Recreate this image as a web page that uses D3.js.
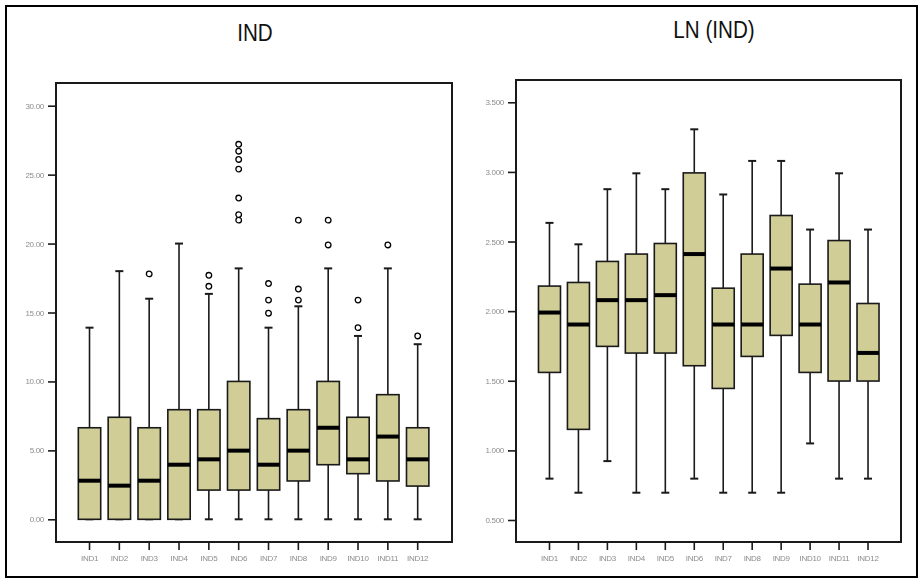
<!DOCTYPE html>
<html>
<head>
<meta charset="utf-8">
<script src="https://cdn.jsdelivr.net/npm/d3@7"></script>
<style>
  html, body { margin: 0; padding: 0; background: #ffffff; }
  svg { display: block; }
  .lbl { filter: grayscale(1); }
</style>
</head>
<body>
<svg id="chart" width="920" height="580"></svg>
<script>
// ---------------- DATA ----------------
const categories = ["IND1","IND2","IND3","IND4","IND5","IND6","IND7","IND8","IND9","IND10","IND11","IND12"];

// Left panel: IND
const indTicks    = [0, 5, 10, 15, 20, 25, 30];
const indMin      = [0, 0, 0, 0, 0, 0, 0, 0, 0, 0, 0, 0];
const indQ1       = [0, 0, 0, 0, 2.12, 2.12, 2.12, 2.78, 3.96, 3.31, 2.78, 2.41];
const indMedian   = [2.8, 2.44, 2.8, 3.96, 4.35, 4.98, 3.96, 4.98, 6.64, 4.35, 6.0, 4.35];
const indQ3       = [6.64, 7.4, 6.64, 7.95, 7.95, 10.0, 7.3, 7.95, 10.0, 7.4, 9.04, 6.64];
const indMax      = [13.9, 18.0, 16.0, 20.0, 16.35, 18.2, 13.9, 15.45, 18.2, 13.3, 18.2, 12.7];
const indOutliers = [
  [],
  [],
  [17.8],
  [],
  [16.9, 17.7],
  [21.7, 22.1, 23.3, 25.4, 26.1, 26.7, 27.2],
  [14.95, 15.9, 17.1],
  [15.9, 16.7, 21.7],
  [19.9, 21.7],
  [13.9, 15.9],
  [19.9],
  [13.3]
];

// Right panel: LN (IND)
const lnTicks   = [0.5, 1.0, 1.5, 2.0, 2.5, 3.0, 3.5];
const lnMin     = [0.797, 0.696, 0.923, 0.696, 0.696, 0.797, 0.696, 0.696, 0.696, 1.05, 0.797, 0.797];
const lnQ1      = [1.56, 1.151, 1.747, 1.699, 1.699, 1.608, 1.445, 1.675, 1.826, 1.56, 1.498, 1.498];
const lnMedian  = [1.99, 1.904, 2.079, 2.079, 2.115, 2.41, 1.904, 1.904, 2.306, 1.904, 2.206, 1.70];
const lnQ3      = [2.18, 2.206, 2.357, 2.41, 2.486, 2.993, 2.165, 2.41, 2.687, 2.194, 2.507, 2.055];
const lnMax     = [2.634, 2.48, 2.876, 2.99, 2.876, 3.306, 2.838, 3.079, 3.079, 2.586, 2.99, 2.586];

const titles = ["IND", "LN (IND)"];

// ---------------- DRAW ----------------
const svg = d3.select("#chart");
const BOX_FILL = "#d0cd97";
const INK = "#1a1a1a";

// outer border
svg.append("rect")
  .attr("x", 6).attr("y", 6).attr("width", 911).attr("height", 571)
  .attr("fill", "none").attr("stroke", "#000").attr("stroke-width", 2);

function styleLabels(sel) {
  sel.attr("class", "lbl").attr("fill", "#8c8c8c")
    .attr("font-family", "'Liberation Sans', Arial, sans-serif").attr("font-size", 8)
    .attr("letter-spacing", "-0.3");
}

function drawPanel(cfg) {
  const g = svg.append("g");
  const x = d3.scaleBand().domain(categories)
    .range(cfg.xRange).paddingInner(cfg.padIn).paddingOuter(cfg.padIn / 2);
  const y = d3.scaleLinear().domain(cfg.yDomain).range(cfg.yRange);

  // title (narrow look)
  svg.append("text")
    .attr("transform", `translate(${cfg.titleX},${cfg.titleY}) scale(0.86,1)`)
    .attr("text-anchor", "middle")
    .attr("font-family", "'Liberation Sans Narrow', 'Liberation Sans', Arial, sans-serif")
    .attr("font-size", 24)
    .attr("fill", "#111")
    .text(cfg.title);

  // y axis
  const yAxis = d3.axisLeft(y).tickValues(cfg.yTicks).tickSize(8).tickPadding(4)
    .tickFormat(d3.format(cfg.fmt));
  const ya = g.append("g").attr("transform", `translate(${cfg.frame.x0},0)`).call(yAxis);
  ya.select(".domain").remove();
  ya.selectAll(".tick line").attr("stroke", INK).attr("stroke-width", 1.6);
  styleLabels(ya.selectAll(".tick text"));

  // x axis
  const xAxis = d3.axisBottom(x).tickSize(8).tickPadding(5);
  const xa = g.append("g").attr("transform", `translate(0,${cfg.frame.y1})`).call(xAxis);
  xa.select(".domain").remove();
  xa.selectAll(".tick line").attr("stroke", INK).attr("stroke-width", 1.6);
  styleLabels(xa.selectAll(".tick text"));

  // frame
  g.append("rect")
    .attr("x", cfg.frame.x0).attr("y", cfg.frame.y0)
    .attr("width", cfg.frame.x1 - cfg.frame.x0).attr("height", cfg.frame.y1 - cfg.frame.y0)
    .attr("fill", "none").attr("stroke", INK).attr("stroke-width", 2);

  const bw = x.bandwidth();
  const capW = 8;
  const rows = categories.map((c, i) => ({
    c, min: cfg.min[i], q1: cfg.q1[i], med: cfg.med[i], q3: cfg.q3[i], max: cfg.max[i],
    out: cfg.out ? cfg.out[i] : []
  }));

  const bx = g.selectAll("g.box").data(rows).join("g").attr("class", "box")
    .attr("transform", d => `translate(${x(d.c) + bw / 2},0)`);

  // whiskers
  bx.append("line").attr("x1", 0).attr("x2", 0)
    .attr("y1", d => y(d.q3)).attr("y2", d => y(d.max))
    .attr("stroke", INK).attr("stroke-width", 1.6);
  bx.append("line").attr("x1", 0).attr("x2", 0)
    .attr("y1", d => y(d.q1)).attr("y2", d => y(d.min))
    .attr("stroke", INK).attr("stroke-width", 1.6);
  // caps
  bx.append("line").attr("x1", -capW / 2).attr("x2", capW / 2)
    .attr("y1", d => y(d.max)).attr("y2", d => y(d.max))
    .attr("stroke", INK).attr("stroke-width", 2);
  bx.append("line").attr("x1", -capW / 2).attr("x2", capW / 2)
    .attr("y1", d => y(d.min)).attr("y2", d => y(d.min))
    .attr("stroke", INK).attr("stroke-width", 2);
  // box
  bx.append("rect")
    .attr("x", -bw / 2).attr("width", bw)
    .attr("y", d => y(d.q3)).attr("height", d => y(d.q1) - y(d.q3))
    .attr("fill", BOX_FILL).attr("stroke", INK).attr("stroke-width", 1.6);
  // median
  bx.append("line").attr("x1", -bw / 2).attr("x2", bw / 2)
    .attr("y1", d => y(d.med)).attr("y2", d => y(d.med))
    .attr("stroke", "#000").attr("stroke-width", 4);
  // outliers
  bx.selectAll("circle").data(d => d.out).join("circle")
    .attr("cx", 0).attr("cy", v => y(v)).attr("r", 2.8)
    .attr("fill", "#fff").attr("stroke", "#000").attr("stroke-width", 1.3);
}

drawPanel({
  title: titles[0], titleX: 255, titleY: 41,
  frame: { x0: 56, y0: 83, x1: 452, y1: 542 },
  xRange: [74.6, 432.6], padIn: 0.25,
  yDomain: [0, 30], yRange: [519.3, 105.7], yTicks: indTicks, fmt: ".2f",
  min: indMin, q1: indQ1, med: indMedian, q3: indQ3, max: indMax, out: indOutliers
});

drawPanel({
  title: titles[1], titleX: 714, titleY: 38,
  frame: { x0: 516, y0: 80, x1: 901, y1: 542 },
  xRange: [535, 882.5], padIn: 0.24,
  yDomain: [0.5, 3.5], yRange: [520, 102.3], yTicks: lnTicks, fmt: ".3f",
  min: lnMin, q1: lnQ1, med: lnMedian, q3: lnQ3, max: lnMax, out: null
});
</script>
</body>
</html>
